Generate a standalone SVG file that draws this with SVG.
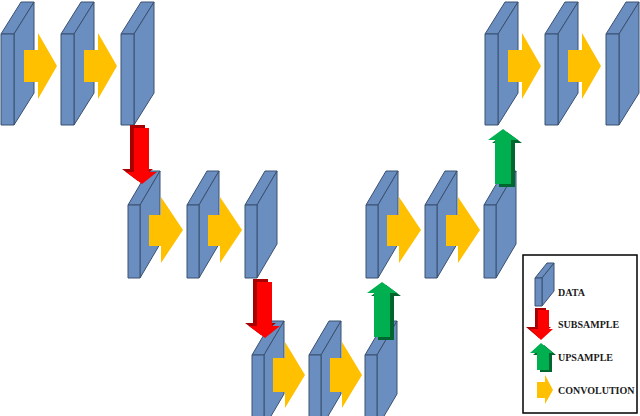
<svg xmlns="http://www.w3.org/2000/svg" xmlns:xlink="http://www.w3.org/1999/xlink" width="640" height="416" viewBox="0 0 640 416">
<style>
.blk{fill:#6a8ec0;stroke:#3b5070;stroke-width:1;stroke-linejoin:round}
.conv{fill:#ffc000}
.red{fill:#ff0000}.redd{fill:#a80000}
.grn{fill:#00b050}.grnd{fill:#00652e}
.lbl{font-family:"Liberation Serif",serif;font-weight:bold;font-size:10px;fill:#1a1a1a}
</style>
<defs>
<g id="b1"><polygon class="blk" points="0,0 20,-32 33,-32 13,0"/><polygon class="blk" points="13,0 33,-32 33,59 13,91"/><rect class="blk" x="0" y="0" width="13" height="91"/></g>
<g id="b2"><polygon class="blk" points="0,0 20,-34 32,-34 12,0"/><polygon class="blk" points="12,0 32,-34 32,39 12,73"/><rect class="blk" x="0" y="0" width="12" height="73"/></g>
<polygon id="down" points="8,0 23,0 23,44 31,44 16,56 0,44 8,44"/>
<polygon id="up" points="15,0 30,11 23,11 23,55 7,55 7,11 0,11"/>
</defs>
<g id="row1-left"><use href="#b1" x="1" y="34"/><use href="#b1" x="61" y="34"/><use href="#b1" x="121" y="34"/></g>
<g id="row1-right"><use href="#b1" x="485" y="34"/><use href="#b1" x="545" y="34"/><use href="#b1" x="606" y="34"/></g>
<g id="row2-left"><use href="#b2" x="128" y="205"/><use href="#b2" x="187" y="205"/><use href="#b2" x="245" y="205"/></g>
<g id="row2-right"><use href="#b2" x="366" y="205"/><use href="#b2" x="425" y="205"/><use href="#b2" x="484" y="205"/></g>
<g id="row3"><use href="#b2" x="252" y="355"/><use href="#b2" x="309" y="355"/><use href="#b2" x="365" y="355"/></g>
<g id="connectors">
<polygon class="conv" points="24,50 38,50 38,33 57,66 38,99 38,82 24,82"/>
<polygon class="conv" points="84,50 98,50 98,33 117,66 98,99 98,82 84,82"/>
<polygon class="conv" points="508,50 522,50 522,33 541,66 522,99 522,82 508,82"/>
<polygon class="conv" points="568,50 582,50 582,33 601,66 582,99 582,82 568,82"/>
<polygon class="conv" points="149,215 161,215 161,197 183,230 161,263 161,246 149,246"/>
<polygon class="conv" points="208,215 220,215 220,197 242,230 220,263 220,246 208,246"/>
<polygon class="conv" points="387,215 399,215 399,197 421,230 399,263 399,246 387,246"/>
<polygon class="conv" points="446,215 458,215 458,197 480,230 458,263 458,246 446,246"/>
<polygon class="conv" points="273,358 285,358 285,342 305,375 285,408 285,392 273,392"/>
<polygon class="conv" points="330,358 342,358 342,342 362,375 342,408 342,392 330,392"/>
<use href="#down" class="redd" x="122" y="125"/><use href="#down" class="red" x="126" y="128"/>
<use href="#down" class="redd" x="245" y="279"/><use href="#down" class="red" x="249" y="282"/>
<use href="#up" class="grnd" x="371" y="285"/><use href="#up" class="grn" x="367" y="282"/>
<use href="#up" class="grnd" x="492" y="132"/><use href="#up" class="grn" x="488" y="129"/>
</g>
<g id="legend">
<rect x="523" y="255" width="114" height="158" fill="none" stroke="#000" stroke-width="1.5"/>
<polygon class="blk" points="535,278 547,263 554,263 542,278"/>
<polygon class="blk" points="542,278 554,263 554,291 542,306"/>
<rect class="blk" x="535" y="278" width="7" height="28"/>
<text class="lbl" x="558" y="296">DATA</text>
<polygon class="redd" points="535,308 546,308 546,327 551,327 539,338 526,327 535,327"/>
<polygon class="red" points="538,310 549,310 549,329 553,329 541,340 530,329 538,329"/>
<text class="lbl" x="558" y="328">SUBSAMPLE</text>
<polygon class="grnd" points="544,345 556,355 552,355 552,372 540,372 540,355 533,355"/>
<polygon class="grn" points="541,343 553,353 549,353 549,370 537,370 537,353 530,353"/>
<text class="lbl" x="558" y="361">UPSAMPLE</text>
<polygon class="conv" points="537,382 545,382 545,375 553,390 545,404 545,398 537,398"/>
<text class="lbl" x="558" y="394">CONVOLUTION</text>
</g>
</svg>
